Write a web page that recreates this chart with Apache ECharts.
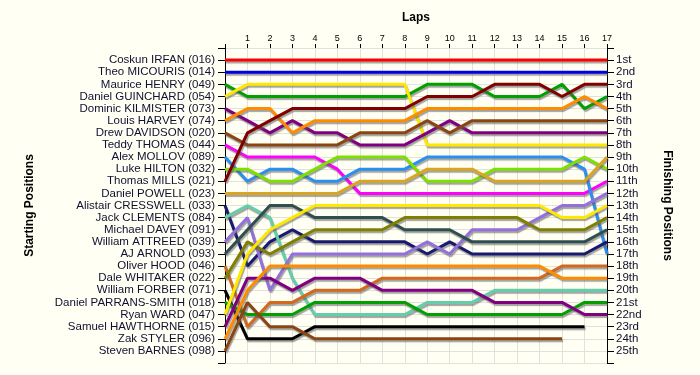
<!DOCTYPE html>
<html><head><meta charset="utf-8">
<script src="https://cdn.jsdelivr.net/npm/echarts@6/dist/echarts.min.js"></script>
<style>html,body{margin:0;padding:0;background:#fffff4}#c{width:700px;height:375px}</style>
</head><body><div id="c"></div>
<script>
const laps = [0,1,2,3,4,5,6,7,8,9,10,11,12,13,14,15,16,17];
const drivers = ["Coskun IRFAN (016)","Theo MICOURIS (014)","Maurice HENRY (049)","Daniel GUINCHARD (054)","Dominic KILMISTER (073)","Louis HARVEY (074)","Drew DAVIDSON (020)","Teddy THOMAS (044)","Alex MOLLOV (089)","Luke HILTON (032)","Thomas MILLS (021)","Daniel POWELL (023)","Alistair CRESSWELL (033)","Jack CLEMENTS (084)","Michael DAVEY (091)","William ATTREED (039)","AJ ARNOLD (093)","Oliver HOOD (046)","Dale WHITAKER (022)","William FORBER (071)","Daniel PARRANS-SMITH (018)","Ryan WARD (047)","Samuel HAWTHORNE (015)","Zak STYLER (096)","Steven BARNES (098)"];
const finishLabels = ["1st","2nd","3rd","4th","5th","6th","7th","8th","9th","10th","11th","12th","13th","14th","15th","16th","17th","18th","19th","20th","21st","22nd","23rd","24th","25th"];
const colors = ["#ff0000","#0000e6","#00a000","#ffe800","#800080","#ff8c00","#8b4513","#ff00ff","#2b8ff0","#7ce000","#800000","#daa520","#191970","#66cdaa","#aaaaaa","#9370db","#2f4f4f","#d2691e","#808000","#000000","#00a000","#ffe800","#800080","#ff8c00","#8b4513"];
// positions per lap (lap 0..17), null = not running
const p01 = [1,1,1,1,1,1,1,1,1,1,1,1,1,1,1,1,1,1];
const p02 = [2,2,2,2,2,2,2,2,2,2,2,2,2,2,2,2,2,2];
const p03 = [3,4,4,4,4,4,4,4,4,3,3,3,4,4,4,3,5,4];
const p04 = [4,3,3,3,3,3,3,3,3,8,8,8,8,8,8,8,8,8];
const p05 = [5,6,7,6,7,7,8,8,8,7,6,7,7,7,7,7,7,7];
const p06 = [6,5,5,7,6,6,6,6,6,5,5,5,5,5,5,5,4,5];
const p07 = [7,8,8,8,8,8,7,7,7,6,7,6,6,6,6,6,6,6];
const p08 = [8,9,9,9,9,10,12,12,12,12,12,12,12,12,12,12,12,11];
const p09 = [9,11,10,10,11,11,10,10,10,9,9,9,9,9,9,9,10,17];
const p10 = [10,10,11,11,10,9,9,9,9,11,11,11,10,10,10,10,9,10];
const p11 = [11,7,6,5,5,5,5,5,5,4,4,4,3,3,3,4,3,3];
const p12 = [12,12,12,12,12,12,11,11,11,10,10,10,11,11,11,11,11,9];
const p13 = [13,18,16,15,16,16,16,16,16,17,16,17,17,17,17,17,17,16];
const p14 = [14,13,14,19,22,22,22,22,22,21,21,21,20,20,20,20,20,20];
const p15 = [15,null,null,null,null,null,null,null,null,null,null,null,null,null,null,null,null,null];
const p16 = [16,14,20,17,17,17,17,17,17,16,17,15,15,15,14,13,13,12];
const p17 = [17,15,13,13,14,14,14,14,15,15,15,16,16,16,16,16,16,15];
const p18 = [18,23,21,21,20,20,20,19,19,19,19,19,19,19,19,18,18,18];
const p19 = [19,16,17,16,15,15,15,15,14,14,14,14,14,14,15,15,15,14];
const p20 = [20,24,24,24,23,23,23,23,23,23,23,23,23,23,23,23,23,null];
const p21 = [21,22,22,22,21,21,21,21,21,22,22,22,22,22,22,22,21,21];
const p22 = [22,17,15,14,13,13,13,13,13,13,13,13,13,13,13,14,14,13];
const p23 = [23,19,19,20,19,19,19,20,20,20,20,20,21,21,21,21,22,22];
const p24 = [24,20,18,18,18,18,18,18,18,18,18,18,18,18,18,19,19,19];
const p25 = [25,21,23,23,24,24,24,24,24,24,24,24,24,24,24,24,null,null];
const positions = [p01,p02,p03,p04,p05,p06,p07,p08,p09,p10,p11,p12,p13,p14,p15,p16,p17,p18,p19,p20,p21,p22,p23,p24,p25];

const chart = echarts.init(document.getElementById('c'), null, {renderer:'canvas'});
const series = positions.map((arr,i)=>({
  type:'line', name:drivers[i], yAxisIndex:0,
  data: laps.map((l,j)=> arr[j]==null ? null : [l, arr[j]]).filter(d=>d!==null),
  symbol:'none', animation:false, silent:true,
  lineStyle:{color:colors[i], width:3, shadowColor:'rgba(90,90,90,0.55)', shadowOffsetX:1, shadowOffsetY:2, shadowBlur:1},
  z: 2
}));
const font = '"Liberation Sans", Arial, sans-serif';
chart.setOption({
  backgroundColor:'#fffff4',
  animation:false,
  grid:{left:225, right:93, top:48, bottom:12},
  xAxis:{type:'value', min:0, max:17, interval:1, position:'top',
    name:'Laps', nameLocation:'middle', nameGap:24,
    nameTextStyle:{fontFamily:font, fontWeight:'bold', fontSize:12, color:'#000'},
    axisLine:{show:false}, axisTick:{show:true, length:4, lineStyle:{color:'#000'}},
    axisLabel:{fontFamily:font, fontSize:9, color:'#000', margin:5, formatter:v=> v===0?'':String(v)},
    splitLine:{show:true, lineStyle:{color:'#e2e2dc', width:1}}},
  yAxis:[
    {type:'value', min:0, max:26, interval:1, inverse:true, position:'left',
     name:'Starting Positions', nameLocation:'middle', nameGap:189, nameRotate:90,
     nameTextStyle:{fontFamily:font, fontWeight:'bold', fontSize:12, color:'#000'},
     axisLine:{show:true, lineStyle:{color:'#000', width:1}},
     axisTick:{show:true, length:7, lineStyle:{color:'#000'}},
     axisLabel:{fontFamily:font, fontSize:11.5, color:'#101030', margin:10,
       formatter:v=> (v>=1&&v<=25)? drivers[v-1] : ''},
     splitLine:{show:true, lineStyle:{color:'#e2e2dc', width:1}}},
    {type:'value', min:0, max:26, interval:1, inverse:true, position:'right',
     name:'Finishing Positions', nameLocation:'middle', nameGap:54, nameRotate:-90,
     nameTextStyle:{fontFamily:font, fontWeight:'bold', fontSize:12, color:'#000'},
     axisLine:{show:true, lineStyle:{color:'#000', width:1}},
     axisTick:{show:true, length:7, lineStyle:{color:'#000'}},
     axisLabel:{fontFamily:font, fontSize:11.5, color:'#101030', margin:9,
       formatter:v=> (v>=1&&v<=25)? finishLabels[v-1] : ''},
     splitLine:{show:false}}
  ],
  series: series
});
</script></body></html>
